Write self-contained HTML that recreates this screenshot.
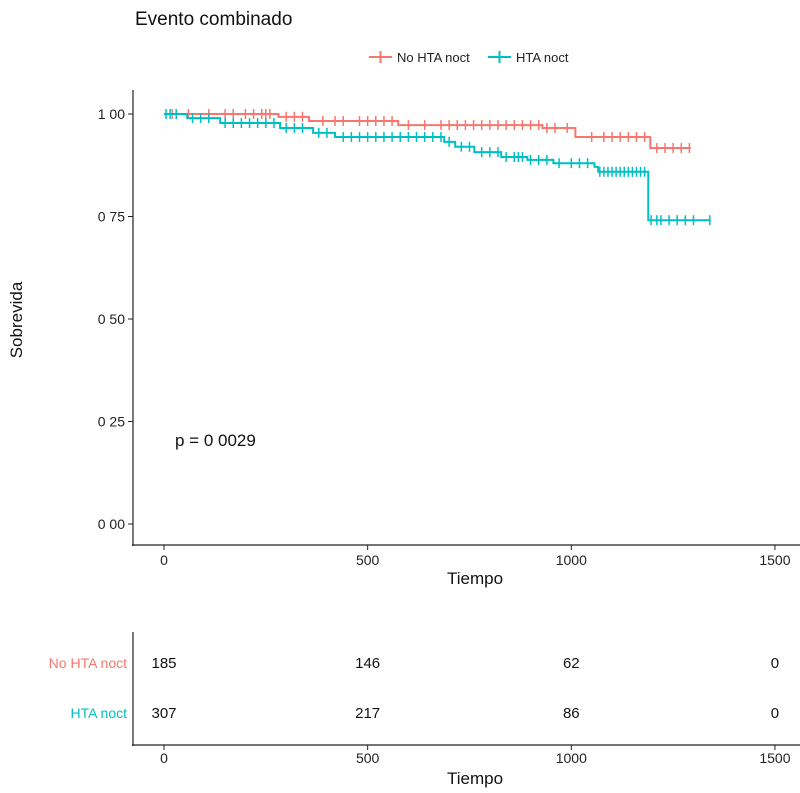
<!DOCTYPE html>
<html><head><meta charset="utf-8"><style>
body{margin:0;background:#fff;}
svg text{font-family:"Liberation Sans",sans-serif;}
</style></head><body>
<svg id="c" width="800" height="788" xmlns="http://www.w3.org/2000/svg">
<text x="135" y="25" font-size="19" fill="#111">Evento combinado</text>
<g>
<g><line x1="369" y1="57" x2="392" y2="57" stroke="#F8766D" stroke-width="2"/><line x1="380.5" y1="51" x2="380.5" y2="63" stroke="#F8766D" stroke-width="2"/><text x="397" y="62" font-size="13" fill="#222">No HTA noct</text></g>
<g><line x1="488" y1="57" x2="511" y2="57" stroke="#00BFC4" stroke-width="2"/><line x1="499.5" y1="51" x2="499.5" y2="63" stroke="#00BFC4" stroke-width="2"/><text x="516" y="62" font-size="13" fill="#222">HTA noct</text></g>
</g>
<line x1="133" y1="90" x2="133" y2="546" stroke="#222" stroke-width="1.2"/>
<line x1="132" y1="545" x2="800" y2="545" stroke="#222" stroke-width="1.2"/>
<text transform="translate(22,320) rotate(-90)" text-anchor="middle" font-size="17" fill="#111">Sobrevida</text>
<text x="475" y="584" text-anchor="middle" font-size="17" fill="#111">Tiempo</text>
<text x="175" y="446" font-size="17" fill="#111">p = 0 0029</text>
<g id="plot"></g>
<g>
<line x1="133" y1="632" x2="133" y2="746" stroke="#222" stroke-width="1.2"/>
<line x1="132" y1="745" x2="800" y2="745" stroke="#222" stroke-width="1.2"/>
<text x="127" y="668" text-anchor="end" font-size="14" fill="#F8766D">No HTA noct</text>
<text x="127" y="718" text-anchor="end" font-size="14" fill="#00BFC4">HTA noct</text>
<text x="475" y="784" text-anchor="middle" font-size="17" fill="#111">Tiempo</text>
<g id="risk"></g>
</g>
</svg>
<script>
const xTicks=[0,500,1000,1500];
const yTicks=[0,0.25,0.5,0.75,1];
const yTickLabels=["0 00","0 25","0 50","0 75","1 00"];
const noHtaTimes=[0,281,356,575,929,1010,1194];
const noHtaSurv=[1,0.993,0.983,0.973,0.966,0.944,0.917];
const noHtaEnd=1293;
const htaTimes=[0,57,138,285,366,420,688,715,762,828,892,956,1057,1066,1189];
const htaSurv=[1,0.99,0.978,0.966,0.954,0.944,0.932,0.920,0.907,0.895,0.888,0.880,0.871,0.859,0.741];
const htaEnd=1342;
const noHtaCensor=[20,60,110,150,170,200,220,240,250,260,300,320,340,390,420,440,480,500,520,540,560,600,640,680,700,720,740,760,780,800,820,840,860,880,900,920,940,960,990,1050,1080,1100,1120,1140,1160,1180,1210,1230,1250,1270,1290];
const htaCensor=[5,15,30,70,90,110,150,170,190,210,230,250,270,300,320,340,380,400,440,460,480,500,520,540,560,580,600,620,640,660,680,700,730,750,780,800,820,840,860,870,880,900,920,940,970,1000,1020,1040,1070,1080,1090,1100,1110,1120,1130,1140,1150,1160,1170,1180,1196,1210,1220,1240,1260,1280,1300,1340];
const riskNoHta=[185,146,62,0];
const riskHta=[307,217,86,0];
const NS="http://www.w3.org/2000/svg";
const X=t=>164+t*0.4073;
const Y=s=>524-s*410;
const svg=document.getElementById('c');
const plot=document.getElementById('plot');
function mk(tag,a,parent){const e=document.createElementNS(NS,tag);for(const k in a)e.setAttribute(k,a[k]);(parent||svg).appendChild(e);return e;}
xTicks.forEach((t,i)=>{
 const l=mk('line',{x1:X(t),y1:545,x2:X(t),y2:550,stroke:'#222'});
 
 
 const tx=mk('text',{x:X(t),y:565,'text-anchor':'middle','font-size':14,fill:'#222'});tx.textContent=t;
 
 
 const l2=mk('line',{x1:X(t),y1:745,x2:X(t),y2:750,stroke:'#222'});
 
 
 const t2=mk('text',{x:X(t),y:763,'text-anchor':'middle','font-size':14,fill:'#222'});t2.textContent=t;
 
 
 const r1=mk('text',{x:X(t),y:668,'text-anchor':'middle','font-size':15,fill:'#111'});r1.textContent=riskNoHta[i];
 
 
 const r2=mk('text',{x:X(t),y:718,'text-anchor':'middle','font-size':15,fill:'#111'});r2.textContent=riskHta[i];
 
 
});
yTicks.forEach((s,i)=>{
 const l=mk('line',{x1:128,y1:Y(s),x2:133,y2:Y(s),stroke:'#222'});
 
 
 const tx=mk('text',{x:125,y:Y(s)+5,'text-anchor':'end','font-size':14,fill:'#222'});tx.textContent=yTickLabels[i];
 
 
});
function survAt(times,surv,t){let s=surv[0];for(let i=0;i<times.length;i++)if(times[i]<=t)s=surv[i];return s;}
function curve(times,surv,end,censor,col,name){
 let d=`M${X(0)},${Y(surv[0])}`;
 for(let i=1;i<times.length;i++){d+=` H${X(times[i])} V${Y(surv[i])}`;}
 d+=` H${X(end)}`;
 const p=mk('path',{d:d,fill:'none',stroke:col,'stroke-width':2},plot);
 
 
 censor.forEach(t=>{
  const s=survAt(times,surv,t);
  const m=mk('line',{x1:X(t),y1:Y(s)-5,x2:X(t),y2:Y(s)+5,stroke:col,'stroke-width':1.5},plot);
  
  
 });
}
curve(noHtaTimes,noHtaSurv,noHtaEnd,noHtaCensor,'#F8766D','no-hta');
curve(htaTimes,htaSurv,htaEnd,htaCensor,'#00BFC4','hta');
</script>
</body></html>
